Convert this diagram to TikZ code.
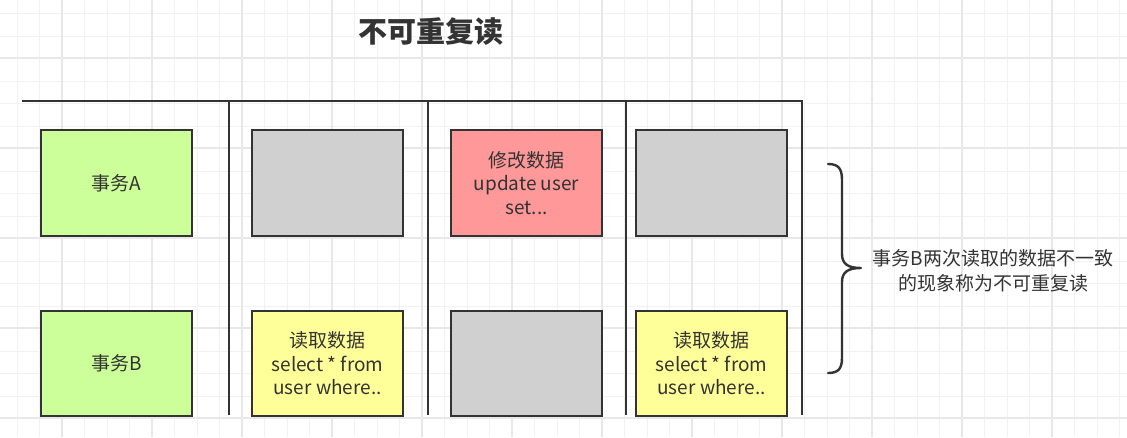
\documentclass[tikz,border=0pt]{standalone}
\usepackage{fontspec}
\setmainfont{Noto Sans CJK SC}
\definecolor{ink}{HTML}{333333}
\definecolor{txt}{HTML}{333333}
\definecolor{gridminor}{HTML}{F2F2F2}
\definecolor{gridmajor}{HTML}{E8E8E8}
\definecolor{fgreen}{HTML}{CCFF99}
\definecolor{fgray}{HTML}{D0D0D0}
\definecolor{fred}{HTML}{FF9999}
\definecolor{fyellow}{HTML}{FFFF99}
\tikzset{
  cell/.style={draw=ink, line width=2.5pt, minimum width=151pt, minimum height=106pt,
    inner sep=0pt, align=center, text=txt, font=\fontsize{19}{23.5}\selectfont},
  lane/.style={draw=ink, line width=2.3pt},
  gminor/.style={draw=gridminor, line width=1pt},
  gmajor/.style={draw=gridmajor, line width=1.2pt}
}
\begin{document}
\begin{tikzpicture}[x=1pt,y=-1pt]
\useasboundingbox (0,0) rectangle (1127,437);
\fill[white] (0,0) rectangle (1127,437);
% grid
\foreach \i in {0,...,49} {\draw[gminor] ({17+22.5*\i},0) -- ({17+22.5*\i},437);}
\foreach \i in {0,...,19} {\draw[gminor] (0,{13.5+22.5*\i}) -- (1127,{13.5+22.5*\i});}
\foreach \i in {0,...,12} {\draw[gmajor] ({62+90*\i},0) -- ({62+90*\i},437);}
\foreach \i in {0,...,4} {\draw[gmajor] (0,{58+90*\i}) -- (1127,{58+90*\i});}
% title
\node[text=ink, font=\fontsize{29}{34}\selectfont\bfseries] (title) at (431,32) {不可重复读};
% lanes
\draw[lane] (22,101) -- (802,101) -- (802,415);
\draw[lane] (229,101) -- (229,415);
\draw[lane] (428,101) -- (428,415);
\draw[lane] (626,101) -- (626,415);
% row A
\node[cell, fill=fgreen] (a1) at (116.5,183) {事务A};
\node[cell, fill=fgray] (a2) at (327.5,183) {};
\node[cell, fill=fred] (a3) at (526.5,183) {修改数据\\update user\\set...};
\node[cell, fill=fgray] (a4) at (711.5,183) {};
% row B
\node[cell, fill=fgreen, minimum height=105pt] (b1) at (116.5,363.5) {事务B};
\node[cell, fill=fyellow, minimum height=105pt] (b2) at (327.5,363.5) {读取数据\\select * from\\user where..};
\node[cell, fill=fgray, minimum height=105pt] (b3) at (526.5,363.5) {};
\node[cell, fill=fyellow, minimum height=105pt] (b4) at (711.5,363.5) {读取数据\\select * from\\user where..};
% brace
\draw[ink, line width=2.4pt, line cap=round, line join=round]
  (828,164) .. controls (838,164) and (842,168) .. (842,180)
  -- (842,254) .. controls (842,264) and (848,268) .. (861,268)
  .. controls (848,268) and (842,272) .. (842,282)
  -- (842,358) .. controls (842,369) and (838,373) .. (828,373);
\node[text=txt, align=center, font=\fontsize{19}{25}\selectfont] (note) at (993,270.5) {事务B两次读取的数据不一致\\的现象称为不可重复读};
\end{tikzpicture}
\end{document}
